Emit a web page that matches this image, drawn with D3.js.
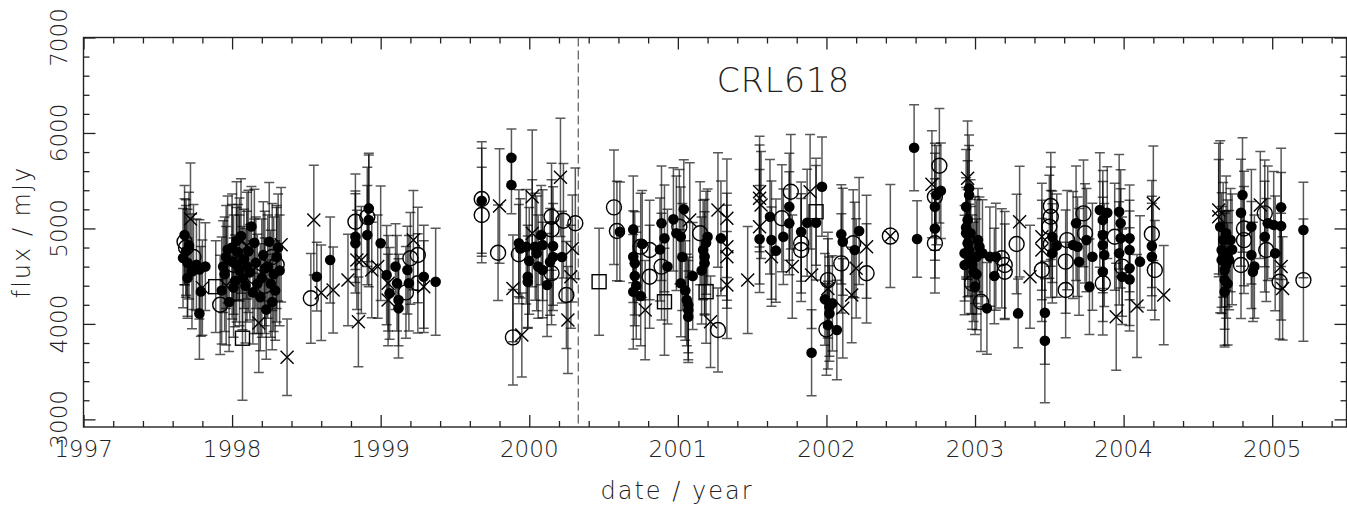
<!DOCTYPE html>
<html>
<head>
<meta charset="utf-8">
<script src="https://cdn.jsdelivr.net/npm/d3@7"></script>
<style>
  html, body { margin: 0; padding: 0; background: #fff; }
  svg { display: block; }
  text { font-family: "DejaVu Sans", sans-serif; font-weight: 200; fill: #222; }
</style>
</head>
<body>
<div id="chart"></div>
<script>
// each point: [date (year), flux (mJy), error (mJy)]
const filledPts = [
  [1997.68,4930,520],[1997.69,4760,480],[1997.70,4640,560],[1997.70,4480,420],[1997.73,4550,600],
  [1997.76,4620,480],[1997.78,4570,520],[1997.79,4340,470],[1997.78,4110,480],[1997.82,4600,460],
  [1997.67,4690,520],[1997.71,4820,560],
  [1997.93,4350,560],[1997.94,4600,480],[1997.95,4520,600],[1997.96,4700,540],[1997.98,4230,520],
  [1998.00,4650,600],[1998.00,4800,560],[1998.02,4450,480],[1998.03,4870,620],[1998.04,4750,500],
  [1998.05,4560,580],[1998.06,4920,600],[1998.08,4680,520],[1998.09,4400,600],[1998.11,4760,640],
  [1998.12,4540,500],[1998.13,5020,420],[1998.14,4330,540],[1998.16,4640,480],[1998.19,4280,560],
  [1998.20,4480,620],[1998.21,4720,560],[1998.23,4150,520],[1998.24,4600,540],[1998.25,4860,620],
  [1998.28,4520,600],[1998.29,4350,520],[1998.31,4800,560],
  [1997.97,4780,560],[1998.01,4380,520],[1998.03,4620,600],[1998.07,4480,540],[1998.10,4600,580],
  [1998.15,4850,560],[1998.17,4420,520],[1998.22,4580,600],[1998.26,4420,560],[1998.30,4700,540],
  [1998.32,4560,580],[1998.27,4230,500],
  [1998.57,4494,360],[1998.66,4670,450],[1998.83,4913,480],[1998.83,4844,520],[1998.92,5210,560],
  [1998.92,5088,700],[1998.91,4930,520],[1999.00,4844,600],[1999.04,4512,520],[1999.06,4320,480],
  [1999.10,4600,450],[1999.11,4425,500],[1999.12,4250,480],[1999.12,4163,520],[1999.18,4564,460],
  [1999.19,4425,500],[1999.29,4494,540],[1999.37,4442,560],
  [1999.68,5290,550],[1999.88,5741,300],[1999.88,5455,300],[1999.93,4844,560],[1999.94,4790,520],
  [1999.98,4808,600],[1999.99,4494,540],[1999.99,4442,480],[2000.04,4808,560],[2000.05,4739,600],
  [2000.08,4931,520],[2000.09,4826,580],[2000.09,4564,500],[2000.12,4407,540],[2000.16,4816,620],
  [2000.16,4700,560],[2000.22,4700,480],[2000.00,4660,560],[2000.06,4600,540],[2000.14,4650,560],
  [2000.61,4966,520],[2000.70,4990,560],[2000.70,4704,480],[2000.71,4634,540],[2000.71,4501,520],
  [2000.70,4337,600],[2000.75,4292,520],[2000.76,4837,560],[2000.89,5054,600],[2000.91,4896,560],
  [2000.97,5095,540],[2000.99,4949,600],[2001.02,4913,520],[2001.02,4425,560],[2001.04,5200,520],
  [2001.06,4250,480],[2001.07,4145,520],[2001.07,4075,480],[2001.07,4197,500],[2001.10,4501,560],
  [2001.17,4774,520],[2001.18,4704,600],[2001.18,4634,540],[2001.20,4913,500],[2001.29,4896,600],
  [2000.72,4400,560],[2000.88,4780,540],[2000.93,4600,600],[2001.03,4700,560],[2001.05,4350,520],
  [2001.16,4560,560],[2001.19,4850,540],
  [2001.55,4889,560],[2001.62,5123,600],[2001.63,4878,620],[2001.66,4767,540],[2001.71,4913,500],
  [2001.75,5227,560],[2001.75,5054,540],[2001.83,4966,520],[2001.87,5060,560],[2001.93,5060,600],
  [2001.97,5437,520],[2001.90,3698,450],[2001.99,4257,480],[2002.02,4180,520],[2002.02,4110,500],
  [2002.01,3988,460],[2002.07,3936,520],[2002.04,4215,500],[2002.10,4938,520],[2002.11,4860,560],
  [2002.19,4774,500],[2002.22,4973,560],
  [2002.59,5845,450],[2002.61,4889,400],[2002.73,5227,560],[2002.73,5000,520],[2002.74,5350,520],
  [2002.77,5395,500],[2002.96,5420,560],[2002.96,5350,520],[2002.94,5227,600],[2002.94,5011,520],
  [2002.94,4949,480],[2002.95,4844,560],[2002.93,4739,500],[2002.93,4617,520],[2002.95,5088,620],
  [2002.96,4774,480],[2002.97,4669,560],[2002.99,4546,520],[2003.00,4390,500],[2003.01,4704,600],
  [2003.02,4878,540],[2003.03,4808,520],[2003.08,4163,480],[2003.10,4704,520],[2003.13,4501,500],
  [2002.97,4950,560],[2002.98,4620,520],[2003.01,4520,580],[2003.05,4740,560],
  [2003.14,4704,560],[2003.29,4110,360],[2003.47,4117,540],[2003.47,3824,650],[2003.52,4739,520],
  [2003.52,4913,480],[2003.55,4820,540],[2003.66,4826,560],[2003.68,5054,600],[2003.69,4808,520],
  [2003.70,4650,560],[2003.75,4878,540],
  [2003.77,4390,500],[2003.79,4704,560],[2003.84,5193,600],[2003.86,5088,520],[2003.86,4931,560],
  [2003.86,4826,500],[2003.87,4722,540],[2003.86,4546,520],[2003.89,5165,480],[2003.97,5175,600],
  [2003.98,5054,560],[2003.98,4896,520],[2003.97,4739,540],[2003.99,4494,500],[2004.04,4896,560],
  [2004.04,4774,520],[2004.04,4582,600],[2004.04,4466,540],[2004.11,4652,480],[2004.19,4816,520],
  [2004.19,4704,560],
  [2004.65,5018,900],[2004.66,4774,600],[2004.66,4669,560],[2004.68,4564,620],[2004.68,4459,700],
  [2004.68,4337,560],[2004.69,4949,600],[2004.70,4739,560],[2004.71,4669,520],[2004.72,4878,540],
  [2004.67,4880,600],[2004.69,4620,560],[2004.70,4420,640],[2004.73,4780,580],
  [2004.79,5165,560],[2004.80,5350,600],[2004.86,5018,600],[2004.86,4722,560],[2004.88,4600,540],
  [2004.87,4546,520],[2004.95,4913,580],[2004.97,5054,600],[2005.01,5036,560],[2005.02,4739,600],
  [2005.06,5221,620],[2005.06,5026,560],[2005.21,4983,500]
];

const openPts = [
  [1997.68,4860,450],[1997.69,4800,500],[1997.74,4700,550],[1997.92,4200,520],[1998.01,4620,520],
  [1998.05,4780,540],[1998.15,4500,600],[1998.22,4400,500],[1998.27,4700,560],[1998.30,4620,600],
  [1998.53,4268,470],[1998.83,5070,500],[1998.91,5120,520],[1999.20,4687,480],[1999.25,4722,500],
  [1999.25,4425,520],[1999.17,4330,480],[1999.68,5308,600],[1999.68,5140,500],[1999.79,4745,500],
  [1999.89,3859,500],[1999.93,4730,520],[2000.15,5123,560],[2000.15,4990,520],[2000.15,4530,540],
  [2000.23,5080,600],[2000.25,4302,560],[2000.31,5054,580],[2000.57,5221,600],[2000.59,4973,520],
  [2000.75,4808,560],[2000.81,4774,520],[2000.81,4494,540],[2000.89,4600,560],[2001.01,5018,600],
  [2001.15,4949,540],[2001.27,3936,440],[2001.70,5106,560],[2001.76,5385,600],[2001.83,4844,520],
  [2001.83,4774,540],[2002.01,4459,500],[2002.00,3943,480],[2002.10,4634,520],[2002.18,4844,560],
  [2002.27,4530,520],[2002.73,5332,560],[2002.73,4844,520],[2002.76,5657,600],[2003.04,4232,520],
  [2002.98,4425,480],[2003.00,4774,560],[2003.18,4687,520],[2003.20,4617,560],[2003.20,4546,500],
  [2003.28,4837,520],[2003.45,4564,540],[2003.51,5235,560],[2003.51,5123,520],[2003.50,5018,540],
  [2003.51,4837,560],[2003.62,4878,520],[2003.61,4652,540],[2003.61,4355,500],[2003.73,5158,560],
  [2003.74,4949,520],[2003.86,4425,540],[2003.94,4913,560],[2003.99,4600,520],[2004.19,4941,560],
  [2004.21,4564,520],[2004.79,4617,560],[2004.81,4999,600],[2004.81,4878,560],[2004.95,5158,560],
  [2004.96,4774,540],[2005.05,4442,600],[2005.21,4459,640]
];

const crossPts = [
  [1997.72,5100,585],[1997.80,4380,500],[1997.96,4400,620],[1998.10,4820,560],[1998.18,4010,520],
  [1998.33,4830,600],[1998.37,3650,400],[1998.55,5088,575],[1998.60,4326,500],[1998.68,4355,450],
  [1998.78,4460,480],[1998.84,4670,520],[1998.85,4022,470],[1998.87,4670,560],[1998.94,4564,500],
  [1998.98,4600,540],[1999.05,4425,500],[1999.05,4250,480],[1999.22,4878,520],[1999.29,4390,480],
  [1999.80,5235,600],[1999.89,4372,560],[1999.95,3883,440],[2000.02,5332,700],[2000.02,4950,560],
  [2000.21,5535,620],[2000.26,4040,560],[2000.28,4494,540],[2000.29,4790,560],[2000.78,4145,520],
  [2001.08,5088,600],[2001.22,4022,480],[2001.27,5193,600],[2001.33,5106,620],[2001.33,4808,560],
  [2001.33,4704,540],[2001.33,4407,560],[2001.47,4459,560],[2001.55,5385,580],[2001.55,5315,560],
  [2001.56,5245,560],[2001.55,5018,600],[2001.63,4704,520],[2001.77,4600,540],[2001.89,5385,600],
  [2001.90,4512,560],[2002.01,4372,520],[2002.11,4163,520],[2002.17,4302,500],[2002.27,4808,540],
  [2002.20,4582,520],[2002.71,5462,560],[2002.95,5525,600],[2003.30,5071,580],[2003.37,4494,540],
  [2003.45,4913,560],[2003.45,4774,520],[2003.95,4075,560],[2004.09,4187,540],[2004.20,5263,600],
  [2004.27,4302,520],[2004.64,5193,700],[2004.64,5123,600],[2004.92,5245,560],[2005.06,4600,560],
  [2005.07,4372,540]
];

const squarePts = [
  [1997.89,4390,480],[1998.07,3850,650],[2000.47,4442,560],[2000.91,4232,560],[2001.19,4337,540],
  [2001.93,5175,560]
];

const circleCrossPts = [
  [2002.43,4920,540]
];

const xTickLabels = [1997, 1998, 1999, 2000, 2001, 2002, 2003, 2004, 2005];
const yTickLabels = [3000, 4000, 5000, 6000, 7000];
const chartTitle = "CRL618";
const xLabel = "date / year";
const yLabel = "flux / mJy";
const splitDate = 2000.33;

const props = {
  width: 1347,
  height: 510,
  left: 83.5,
  right: 0.5,
  top: 37.5,
  bottom: 83,
  xMin: 1997, xMax: 2005.5,
  yMin: 2920, yMax: 7000,
  majorTick: 12,
  minorTick: 6,
  capHalf: 5
};

const svg = d3.select("#chart").append("svg")
  .attr("width", props.width)
  .attr("height", props.height);

const width = props.width - props.left - props.right;
const height = props.height - props.top - props.bottom;

const g = svg.append("g")
  .attr("transform", `translate(${props.left},${props.top})`);

const x = d3.scaleLinear().domain([props.xMin, props.xMax]).range([0, width]);
const y = d3.scaleLinear().domain([props.yMin, props.yMax]).range([height, 0]);

const xMinor = d3.range(props.xMin, props.xMax + 1e-6, 0.2).filter(v => Math.abs(v - Math.round(v)) > 1e-6);
const yMinor = d3.range(3000, props.yMax + 1e-6, 200).filter(v => v % 1000 !== 0);

// ticks point inwards on all four sides, pgplot style
function addAxis(axisFn, transform, values, size) {
  g.append("g")
    .attr("class", "axis")
    .attr("transform", transform)
    .call(axisFn.tickValues(values).tickSize(-size).tickFormat(""))
    .call(a => a.select(".domain").remove())
    .selectAll("line").attr("stroke", "#222").attr("stroke-width", 1.3);
}
addAxis(d3.axisBottom(x), `translate(0,${height})`, xTickLabels, props.majorTick);
addAxis(d3.axisBottom(x), `translate(0,${height})`, xMinor, props.minorTick);
addAxis(d3.axisTop(x), "translate(0,0)", xTickLabels, props.majorTick);
addAxis(d3.axisTop(x), "translate(0,0)", xMinor, props.minorTick);
addAxis(d3.axisLeft(y), "translate(0,0)", yTickLabels, props.majorTick);
addAxis(d3.axisLeft(y), "translate(0,0)", yMinor, props.minorTick);
addAxis(d3.axisRight(y), `translate(${width},0)`, yTickLabels, props.majorTick);
addAxis(d3.axisRight(y), `translate(${width},0)`, yMinor, props.minorTick);

// frame
g.append("rect")
  .attr("width", width)
  .attr("height", height)
  .attr("fill", "none")
  .attr("stroke", "#222")
  .attr("stroke-width", 1.4);

// tick labels
g.selectAll(".xlab")
  .data(xTickLabels)
  .enter().append("text")
    .attr("class", "xlab")
    .attr("x", d => x(d))
    .attr("y", height + 30)
    .style("font-size", "23px")
    .style("text-anchor", "middle")
    .text(d => d);

g.selectAll(".ylab")
  .data(yTickLabels)
  .enter().append("text")
    .attr("class", "ylab")
    .attr("transform", d => `translate(-17,${y(d)}) rotate(-90)`)
    .style("font-size", "23px")
    .style("text-anchor", "middle")
    .text(d => d);

// axis titles
svg.append("text")
  .attr("transform", `translate(677,499)`)
  .style("font-size", "24px")
  .style("letter-spacing", "2px")
  .style("text-anchor", "middle")
  .text(xLabel);

svg.append("text")
  .attr("transform", `translate(30,232) rotate(-90)`)
  .style("font-size", "24px")
  .style("letter-spacing", "2px")
  .style("text-anchor", "middle")
  .text(yLabel);

g.append("text")
  .attr("x", x(2001.71))
  .attr("y", 92 - props.top)
  .style("font-size", "33px")
  .style("letter-spacing", "1px")
  .style("text-anchor", "middle")
  .text(chartTitle);

// dashed line
g.append("line")
  .attr("x1", x(splitDate)).attr("x2", x(splitDate))
  .attr("y1", 0).attr("y2", height)
  .attr("stroke", "#666")
  .attr("stroke-width", 1.3)
  .attr("stroke-dasharray", "9,4");

// error bars for all series
const allPts = [].concat(filledPts, openPts, crossPts, squarePts, circleCrossPts);
const bars = g.append("g")
  .attr("stroke", "#000")
  .attr("stroke-opacity", 0.65)
  .attr("stroke-width", 1.5)
  .attr("fill", "none");

bars.selectAll(".err")
  .data(allPts)
  .enter().append("path")
    .attr("class", "err")
    .attr("d", d => {
      const cx = x(d[0]), lo = y(d[1] - d[2]), hi = y(d[1] + d[2]);
      const c = props.capHalf;
      return `M${cx},${lo}V${hi}M${cx - c},${hi}H${cx + c}M${cx - c},${lo}H${cx + c}`;
    });

// symbols
const sym = g.append("g").attr("stroke", "#000").attr("stroke-width", 1.4);

sym.selectAll(".open")
  .data(openPts)
  .enter().append("circle")
    .attr("class", "open")
    .attr("cx", d => x(d[0]))
    .attr("cy", d => y(d[1]))
    .attr("r", 7.5)
    .attr("fill", "none");

sym.selectAll(".square")
  .data(squarePts)
  .enter().append("rect")
    .attr("class", "square")
    .attr("x", d => x(d[0]) - 7)
    .attr("y", d => y(d[1]) - 7)
    .attr("width", 14)
    .attr("height", 14)
    .attr("fill", "none");

sym.selectAll(".cross")
  .data(crossPts)
  .enter().append("path")
    .attr("class", "cross")
    .attr("fill", "none")
    .attr("d", d => {
      const cx = x(d[0]), cy = y(d[1]), s = 6.5;
      return `M${cx - s},${cy - s}L${cx + s},${cy + s}M${cx - s},${cy + s}L${cx + s},${cy - s}`;
    });

sym.selectAll(".circx")
  .data(circleCrossPts)
  .enter().append("path")
    .attr("class", "circx")
    .attr("fill", "none")
    .attr("d", d => {
      const cx = x(d[0]), cy = y(d[1]), r = 8, s = 5.6;
      return `M${cx + r},${cy}A${r},${r} 0 1,1 ${cx - r},${cy}A${r},${r} 0 1,1 ${cx + r},${cy}` +
        `M${cx - s},${cy - s}L${cx + s},${cy + s}M${cx - s},${cy + s}L${cx + s},${cy - s}`;
    });

sym.selectAll(".filled")
  .data(filledPts)
  .enter().append("circle")
    .attr("class", "filled")
    .attr("cx", d => x(d[0]))
    .attr("cy", d => y(d[1]))
    .attr("r", 5.3)
    .attr("stroke", "none")
    .attr("fill", "#000");
</script>
</body>
</html>
